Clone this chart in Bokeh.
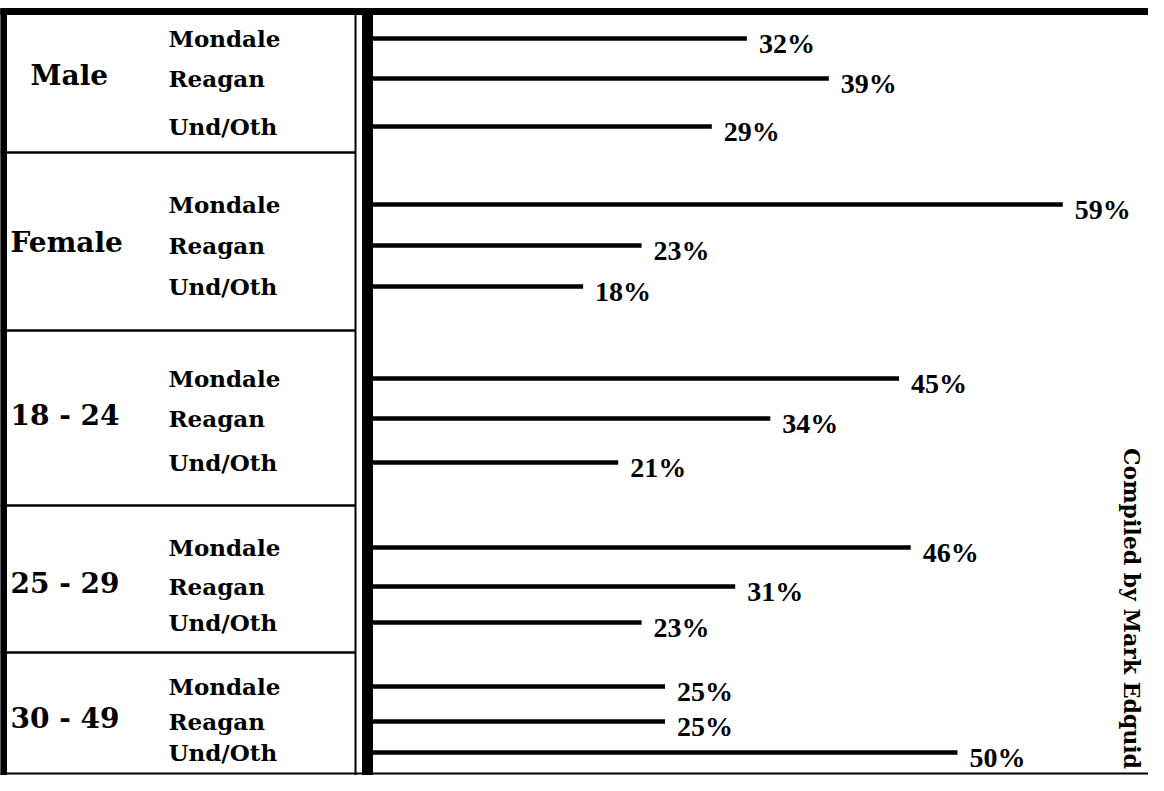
from math import pi
from bokeh.plotting import figure
from bokeh.models import Range1d, ColumnDataSource
from bokeh.core.properties import value
from bokeh.embed import file_html
from bokeh.resources import INLINE

# ---------------- data ----------------
groups = ["Male", "Female", "18 - 24", "25 - 29", "30 - 49"]
candidates = ["Mondale", "Reagan", "Und/Oth"]
mondale = [32, 59, 45, 46, 25]
reagan = [39, 23, 34, 31, 25]
und_oth = [29, 18, 21, 23, 50]
credit = "Compiled by Mark Edquid"

# ---------------- layout (picture pixel coordinates) ----------------
W, H = 1148, 775
BAR_ORIGIN = 372          # x where 0 % sits
PX_PER_PCT = 11.7
group_tops = [8, 152, 330, 505, 652]
row_y = [[38, 78, 126], [204, 245, 286], [378, 418, 462], [547, 586, 622], [686, 721, 752]]
group_label_x = [30, 10, 10, 10, 10]
cand_label_x = 168
TABLE_RIGHT = 355

p = figure(width=W, height=H, output_backend="svg", toolbar_location=None,
           x_range=Range1d(0, W), y_range=Range1d(H, 0),
           min_border=0, background_fill_color="white", border_fill_color="white")
p.outline_line_color = None
p.axis.visible = False
p.grid.visible = False
p.extra_x_ranges = {"pct": Range1d(-BAR_ORIGIN / PX_PER_PCT, (W - BAR_ORIGIN) / PX_PER_PCT)}

# ---------------- frame ----------------
p.quad(left=[0], right=[W], top=[8], bottom=[14], color="black")              # top border
p.quad(left=[0], right=[6], top=[8], bottom=[H], color="black")               # left border
p.quad(left=[362], right=[BAR_ORIGIN], top=[8], bottom=[H], color="black")    # thick divider
p.segment(x0=[TABLE_RIGHT], x1=[TABLE_RIGHT], y0=[12], y1=[H], line_color="black", line_width=2)
p.segment(x0=[0] * 4, x1=[TABLE_RIGHT] * 4, y0=group_tops[1:], y1=group_tops[1:],
          line_color="black", line_width=2.5)
p.segment(x0=[0], x1=[W], y0=[773], y1=[773], line_color="black", line_width=2)

# ---------------- bars ----------------
vals, ys, labels = [], [], []
for gi in range(len(groups)):
    for ci, series in enumerate([mondale, reagan, und_oth]):
        vals.append(series[gi])
        ys.append(row_y[gi][ci])
        labels.append(f"{series[gi]}%")
src = ColumnDataSource(dict(x0=[0] * len(vals), x1=vals, y=ys, label=labels))
p.segment(x0="x0", x1="x1", y0="y", y1="y", source=src, x_range_name="pct",
          line_color="black", line_width=4.5)
p.text(x="x1", y="y", text="label", source=src, x_range_name="pct",
       x_offset=12, y_offset=5, text_font=value("Liberation Serif"), text_font_style="bold",
       text_font_size="28px", text_baseline="middle", text_align="left", text_color="black")

# ---------------- table labels ----------------
p.text(x=group_label_x, y=[r[1] - 3 for r in row_y], text=groups,
       text_font=value("DejaVu Serif"), text_font_style="bold", text_font_size="28px",
       text_baseline="middle", text_align="left", text_color="black")
cx, cy, ct = [], [], []
for gi in range(len(groups)):
    for ci, c in enumerate(candidates):
        cx.append(cand_label_x)
        cy.append(row_y[gi][ci])
        ct.append(c)
p.text(x=cx, y=cy, text=ct, text_font=value("DejaVu Serif"), text_font_style="bold",
       text_font_size="23px", text_baseline="middle", text_align="left", text_color="black")

# ---------------- credit ----------------
p.text(x=[1131], y=[608], text=[credit], angle=-pi / 2,
       text_font=value("DejaVu Serif"), text_font_style="bold", text_font_size="22px",
       text_baseline="middle", text_align="center", text_color="black")

open("out.html", "w").write(file_html(p, INLINE))
